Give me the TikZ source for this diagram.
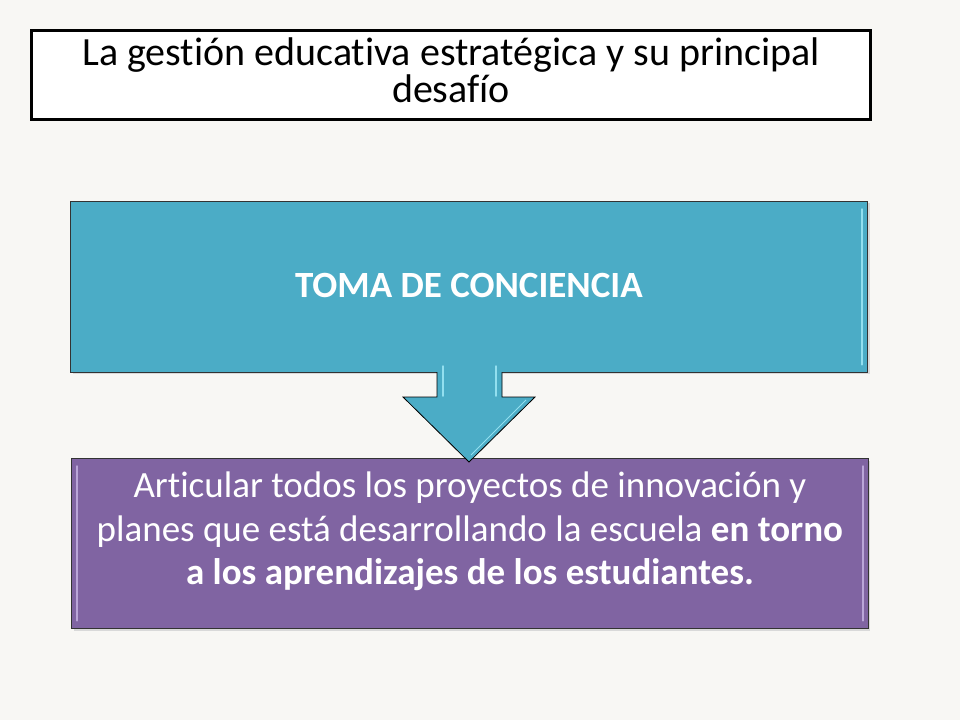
\documentclass[tikz,border=0pt]{standalone}
\usepackage{fontspec}
\setmainfont{Carlito}[Ligatures={NoCommon}]
\definecolor{bgc}{HTML}{F8F7F4}
\definecolor{tealc}{HTML}{4BACC6}
\definecolor{purc}{HTML}{8064A2}
\definecolor{tealhi}{HTML}{A6ECFA}
\definecolor{purhi}{HTML}{C9B6E6}
\begin{document}
\begin{tikzpicture}[x=1pt,y=-1pt,
  titlebox/.style={draw=black,line width=3pt,fill=white,minimum width=839pt,minimum height=89pt,inner sep=0pt,anchor=north west},
  titletext/.style={align=center,inner sep=0pt,font=\fontsize{40}{37}\selectfont},
  colbox/.style={draw=black!80,line width=0.8pt,minimum width=797pt,minimum height=171pt,inner sep=0pt,anchor=north west},
  boxtext/.style={align=center,inner sep=0pt,text=white},
  arrowc/.style={fill=tealc},
  arrowline/.style={draw=black,line width=0.8pt,line join=miter},
  hil/.style={line width=1.5pt,line cap=round,opacity=0.8}]
\fill[bgc] (0,0) rectangle (960,720);
\useasboundingbox (0,0) rectangle (960,720);
\node[titlebox] (title) at (30,29) {};
\node[titletext] (titlet) at ([yshift=5pt]title.center) {La gestión educativa estratégica y su principal\\desafío};
% shadows
\fill[black!15] (73,203) rectangle (870,374);
\fill[black!15] (74,461) rectangle (870,631);
\node[colbox,fill=tealc] (blue) at (70,201) {};
\node[boxtext,font=\fontsize{37}{44}\selectfont\bfseries] (bluet) at ([yshift=1pt]blue.center) {TOMA DE CONCIENCIA};
\node[colbox,fill=purc,minimum height=170pt] (purple) at (71,458) {};
\node[boxtext,font=\fontsize{37}{43.5}\selectfont] (purplet) at ([yshift=12pt]purple.center)
  {Articular todos los proyectos de innovación y\\planes que está desarrollando la escuela \textbf{en torno}\\\textbf{a los aprendizajes de los estudiantes.}};
% bevel highlights
\draw[tealhi,hil] ([xshift=-6pt,yshift=-8pt]blue.north east) -- ([xshift=-6pt,yshift=8pt]blue.south east);
\draw[purhi,hil] ([xshift=6pt,yshift=-8pt]purple.north west) -- ([xshift=6pt,yshift=8pt]purple.south west);
\draw[purhi,hil] ([xshift=-6pt,yshift=-8pt]purple.north east) -- ([xshift=-6pt,yshift=8pt]purple.south east);
% arrow
\fill[arrowc] (437,372) -- (437,397) -- (403,397) -- (469,462) -- (535,397) -- (502,397) -- (502,372) -- cycle;
\draw[arrowline] (437,372) -- (437,397) -- (403,397) -- (469,462) -- (535,397) -- (502,397) -- (502,372);
\draw[tealhi,hil] (443,366) -- (443,396);
\draw[tealhi,hil] (496,366) -- (496,396);
\draw[tealhi,line width=1pt,opacity=0.8] (471,455) -- (526,400);
\end{tikzpicture}
\end{document}
